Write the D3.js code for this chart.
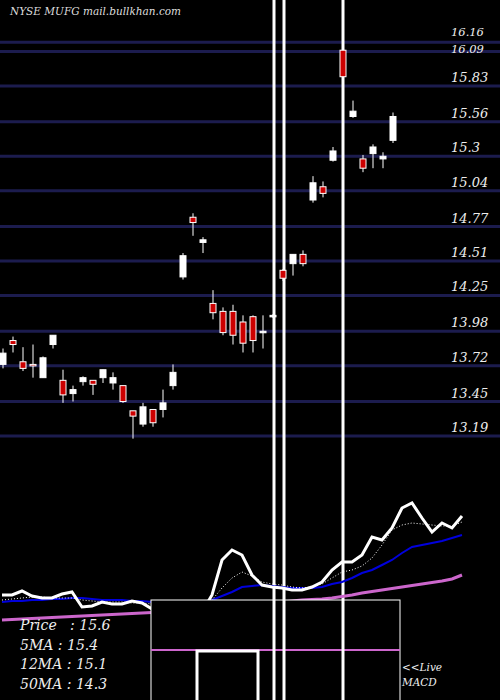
<!DOCTYPE html><html><head><meta charset="utf-8">
<script src="https://cdn.jsdelivr.net/npm/d3@7"></script>
<style>body{margin:0;background:#000}svg{display:block}</style></head><body>
<script>
const opens=[13.73,13.91,13.75,13.73,13.63,13.88,13.61,13.51,13.60,13.61,13.63,13.59,13.57,13.38,13.28,13.39,13.39,13.57,14.39,14.84,14.65,14.19,14.13,14.13,14.05,14.09,13.97,14.09,14.44,14.49,14.56,14.97,15.07,15.27,16.10,15.60,15.28,15.32,15.28,15.42];
const closes=[13.815,13.88,13.70,13.72,13.78,13.95,13.50,13.54,13.63,13.58,13.69,13.63,13.45,13.34,13.41,13.29,13.44,13.67,14.55,14.80,14.67,14.12,13.97,13.95,13.89,13.91,13.98,14.10,14.38,14.56,14.49,15.10,15.02,15.34,15.90,15.64,15.21,15.37,15.30,15.60];
const highs=[13.85,13.94,13.86,13.88,13.79,13.95,13.69,13.57,13.64,13.61,13.69,13.67,13.57,13.38,13.44,13.39,13.54,13.73,14.57,14.87,14.69,14.29,14.16,14.18,14.10,14.10,14.10,14.11,14.45,14.56,14.59,15.15,15.11,15.37,16.16,15.72,15.31,15.39,15.33,15.63];
const lows=[13.70,13.82,13.68,13.63,13.63,13.85,13.44,13.45,13.57,13.50,13.59,13.54,13.44,13.17,13.26,13.26,13.33,13.54,14.37,14.70,14.57,14.07,13.95,13.88,13.82,13.82,13.85,14.08,14.36,14.40,14.47,14.95,14.99,15.26,15.88,15.59,15.18,15.21,15.21,15.40];
const priceTicks=[16.16,16.09,15.83,15.56,15.3,15.04,14.77,14.51,14.25,13.98,13.72,13.45,13.19];
const priceLine=[105,105,109,104,102,102,106,108,93,94,98,96,96,99,97,91,80,70,68,75,88,105,140,150,145,125,115,113,112,110,110,113,118,130,138,138,145,163,160,172,192,197,182,168,177,172,184];
const ma5=[100,101,102,103,103,102,102,102,100,99,98,98,98,97,97,96,90,85,82,85,90,100,112,122,128,124,118,116,115,113,112,113,116,122,128,130,134,142,155,170,175,177,176,175,174,174,178];
const ma12=[98,99,99,100,100,101,101,102,102,101,100,100,100,99,99,98,95,93,93,94,97,100,104,108,113,114,115,114,113,112,112,112,113,116,118,122,127,130,135,140,147,153,155,157,159,162,165];
const ma50=[80,80.5,81,81.5,82,82.5,83,83.5,84,84.5,85,85.5,86,86.5,87,87.5,88,88.5,89,89.5,90,91,92,93,94,95,96,97,98,99,100,100.5,101,102,103.5,105,107,108.5,110,111.5,113,114.5,116,117.5,119,121,125];
const legend=["Price   : 15.6","5MA : 15.4","12MA : 15.1","50MA : 14.3"];

const W=500,H=700;
const svg=d3.select("body").append("svg").attr("width",W).attr("height",H).style("background","#000");
const y=d3.scaleLinear().domain([15.83,13.19]).range([86,436]);
const x=d3.scaleLinear().domain([0,39]).range([3,393]);
const ser="'DejaVu Serif','Liberation Serif',serif";

svg.selectAll(".g").data(priceTicks).join("line").attr("x1",0).attr("x2",W)
 .attr("y1",d=>y(d)).attr("y2",d=>y(d)).attr("stroke","#1c1c4e").attr("stroke-width",3);
svg.selectAll(".tl").data(priceTicks).join("text").attr("x",451).attr("y",(d,i)=>y(d)-(i===0?6:i===1?-1:4))
 .text(d=>d).attr("fill","#eee").attr("font-family",ser).attr("font-style","italic").attr("font-size",(d,i)=>i<2?11.5:13);

svg.append("text").attr("x",10).attr("y",15).text("NYSE MUFG mail.bullkhan.com")
 .attr("fill","#ddd").attr("font-family",ser).attr("font-style","italic").attr("font-size",10.5);

[274,284,343].forEach(v=>svg.append("line").attr("x1",v).attr("x2",v).attr("y1",0).attr("y2",H).attr("stroke","#fff").attr("stroke-width",3));

const idx=d3.range(opens.length);
svg.selectAll(".w").data(idx).join("line").attr("x1",i=>x(i)).attr("x2",i=>x(i))
 .attr("y1",i=>y(highs[i])).attr("y2",i=>y(lows[i])).attr("stroke","#fff").attr("stroke-width",1);
svg.selectAll(".b").data(idx).join("rect").attr("x",i=>x(i)-3).attr("width",6)
 .attr("y",i=>y(Math.max(opens[i],closes[i])))
 .attr("height",i=>Math.max(1.5,Math.abs(y(opens[i])-y(closes[i]))))
 .attr("fill",i=>closes[i]>=opens[i]?"#fff":"#cc0000").attr("stroke","#fff").attr("stroke-width",1);

const xi=d3.scaleLinear().domain([0,46]).range([2,462]);
const yi=d3.scaleLinear().domain([0,220]).range([700,480]);
const ln=d3.line().x((d,i)=>xi(i)).y(d=>yi(d));
svg.append("path").attr("d",ln(ma50)).attr("fill","none").attr("stroke","#cc66cc").attr("stroke-width",3);
svg.append("path").attr("d",ln(ma12)).attr("fill","none").attr("stroke","#0000dd").attr("stroke-width",2);
svg.append("path").attr("d",ln(ma5)).attr("fill","none").attr("stroke","#fff").attr("stroke-width",1).attr("stroke-dasharray","1,2");
svg.append("path").attr("d",ln(priceLine)).attr("fill","none").attr("stroke","#fff").attr("stroke-width",3);

svg.append("rect").attr("x",151).attr("y",600).attr("width",249).attr("height",101).attr("fill","#000").attr("stroke","#fff").attr("stroke-width",1);
svg.append("line").attr("x1",151).attr("x2",400).attr("y1",650).attr("y2",650).attr("stroke","#cc66cc").attr("stroke-width",2);
svg.append("path").attr("d","M197,700V651H258V700").attr("fill","none").attr("stroke","#fff").attr("stroke-width",3);
[274,284,343].forEach(v=>svg.append("line").attr("x1",v).attr("x2",v).attr("y1",600).attr("y2",H).attr("stroke","#fff").attr("stroke-width",3));

svg.selectAll(".lg").data(legend).join("text").attr("x",20).attr("y",(d,i)=>630+i*19.5).text(d=>d)
 .attr("fill","#eee").attr("font-family",ser).attr("font-style","italic").attr("font-size",14).attr("xml:space","preserve");
svg.append("text").attr("x",402).attr("y",671).text("<<Live").attr("fill","#eee").attr("font-family",ser).attr("font-style","italic").attr("font-size",10.5);
svg.append("text").attr("x",402).attr("y",686).text("MACD").attr("fill","#eee").attr("font-family",ser).attr("font-style","italic").attr("font-size",10.5);
</script></body></html>
